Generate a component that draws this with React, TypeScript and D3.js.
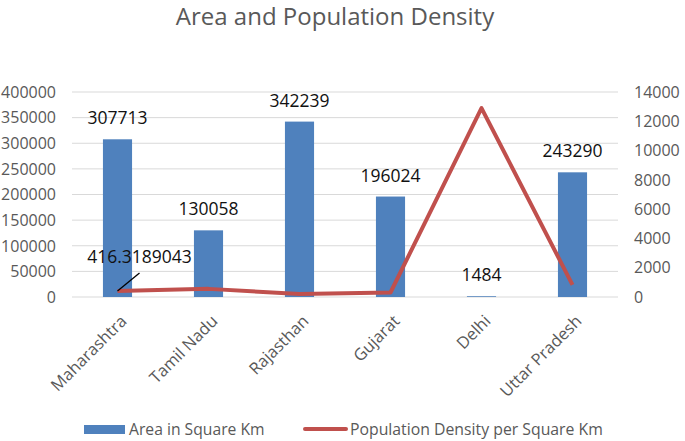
import React from 'react';
import * as d3 from 'd3';

// chart data
const states = ['Maharashtra', 'Tamil Nadu', 'Rajasthan', 'Gujarat', 'Delhi', 'Uttar Pradesh'];
const areaValues = [307713, 130058, 342239, 196024, 1484, 243290];
const densityValues = [416.3189043, 555, 200, 308, 12900, 829];
const areaTicks = [0, 50000, 100000, 150000, 200000, 250000, 300000, 350000, 400000];
const densityTicks = [0, 2000, 4000, 6000, 8000, 10000, 12000, 14000];
const seriesNames = ['Area in Square Km', 'Population Density per Square Km'];

const W = 685;
const H = 441;
const margin = { top: 92, right: 67, bottom: 144, left: 72 };

const BLUE = '#4f81bd';
const RED = '#c0504d';
const GRAY = '#595959';
const FONT = '"Open Sans", sans-serif';

const App = () => {
    const x = d3.scaleBand()
        .domain(states)
        .range([margin.left, W - margin.right])
        .padding(0);

    const yLeft = d3.scaleLinear()
        .domain([0, 400000])
        .range([H - margin.bottom, margin.top]);

    const yRight = d3.scaleLinear()
        .domain([0, 14000])
        .range([H - margin.bottom, margin.top]);

    const barW = x.bandwidth() * 0.32;
    const cx = (s: string) => (x(s) ?? 0) + x.bandwidth() / 2;

    const line = d3.line<number>()
        .x((_, i) => cx(states[i]))
        .y(d => yRight(d));

    // leader line for the first density label
    const p0 = { x: cx(states[0]), y: yRight(densityValues[0]) };

    return (
        <svg width={W} height={H} style={{ position: 'absolute', left: 0, top: 0, background: '#fff' }}
            fontFamily={FONT}>
            {/* Title */}
            <text x={335} y={25} textAnchor="middle" fontSize={24} fill={GRAY}>
                Area and Population Density
            </text>

            {/* Gridlines */}
            {areaTicks.map(t => (
                <line key={t} x1={margin.left} x2={W - margin.right} y1={yLeft(t)} y2={yLeft(t)}
                    stroke="#d9d9d9" strokeWidth={1} />
            ))}

            {/* Left axis labels */}
            {areaTicks.map(t => (
                <text key={'l' + t} x={56} y={yLeft(t)} dy="0.36em" textAnchor="end" fontSize={16} fill={GRAY}>
                    {t}
                </text>
            ))}

            {/* Right axis labels */}
            {densityTicks.map(t => (
                <text key={'r' + t} x={634} y={yRight(t)} dy="0.36em" textAnchor="start" fontSize={16} fill={GRAY}>
                    {t}
                </text>
            ))}

            {/* Bars */}
            {areaValues.map((v, i) => (
                <rect key={states[i]} x={cx(states[i]) - barW / 2} y={yLeft(v)} width={barW}
                    height={yLeft(0) - yLeft(v)} fill={BLUE} />
            ))}

            {/* Bar data labels */}
            {areaValues.map((v, i) => (
                <text key={'b' + i} x={cx(states[i])} y={yLeft(v) - 15} textAnchor="middle" fontSize={17.5} fill="#111">
                    {v}
                </text>
            ))}

            {/* Density line */}
            <path d={line(densityValues) ?? ''} fill="none" stroke={RED} strokeWidth={4} strokeLinejoin="round" />

            {/* Density label with leader */}
            <line x1={p0.x} y1={p0.y} x2={p0.x + 22} y2={p0.y - 18} stroke="#000" strokeWidth={1.3} />
            <text x={p0.x + 22} y={263} textAnchor="middle" fontSize={17.5} fill="#111">
                {densityValues[0]}
            </text>

            {/* Category labels */}
            {states.map(s => (
                <text key={'c' + s} transform={`translate(${cx(s) + 2},${314}) rotate(-45)`}
                    textAnchor="end" dy="0.7em" fontSize={16.5} fill={GRAY}>
                    {s}
                </text>
            ))}

            {/* Legend */}
            <rect x={84} y={425} width={41} height={9} fill={BLUE} />
            <text x={129} y={429} dy="0.36em" fontSize={15.7} fill={GRAY}>{seriesNames[0]}</text>
            <line x1={305} x2={346} y1={429} y2={429} stroke={RED} strokeWidth={4} strokeLinecap="round" />
            <text x={350} y={429} dy="0.36em" fontSize={15.8} fill={GRAY}>{seriesNames[1]}</text>
        </svg>
    );
};

export default App;
